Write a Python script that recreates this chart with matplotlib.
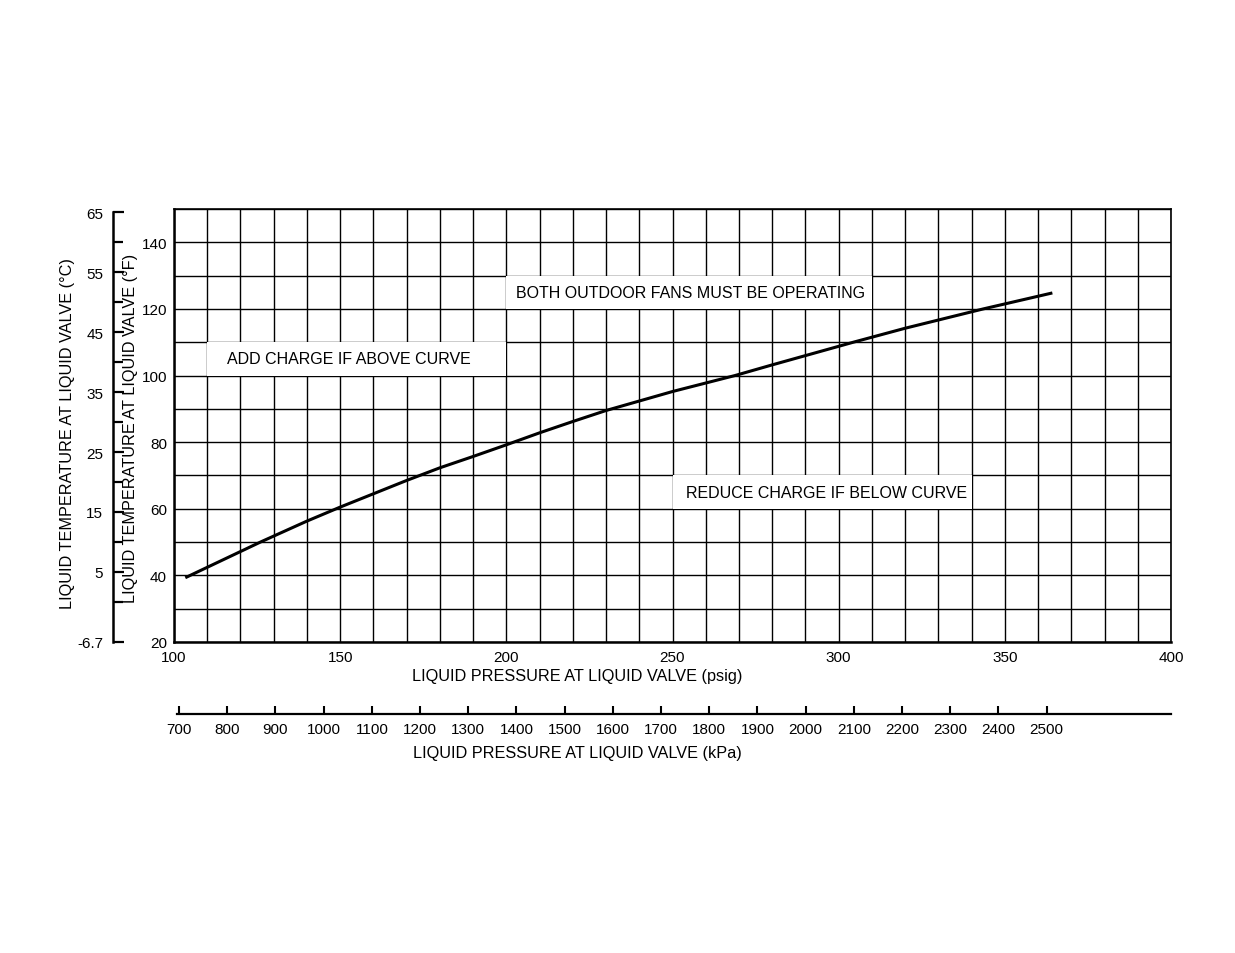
import matplotlib
matplotlib.use("Agg")
import matplotlib.pyplot as plt
from matplotlib.patches import Rectangle

plt.rcParams['font.family'] = ['Liberation Sans', 'DejaVu Sans']

# ---- data ----
pressure_psig = [103.4, 126, 140, 150, 160, 170, 180, 190, 200, 210,
                 220, 230, 250, 268.8, 280, 304.4, 320, 343.5, 364.3]
temp_F = [39.3, 50.0, 56.3, 60.5, 64.5, 68.5, 72.3, 75.7, 79.2, 82.8,
          86.2, 89.5, 95.2, 100.0, 103.2, 110.0, 114.2, 120.0, 124.8]

psig_ticks = [100, 150, 200, 250, 300, 350, 400]
F_ticks = [20, 40, 60, 80, 100, 120, 140]
C_ticks = [-6.7, 5, 15, 25, 35, 45, 55, 65]
C_minor = [0, 10, 20, 30, 40, 50, 60]
kPa_ticks = [700, 800, 900, 1000, 1100, 1200, 1300, 1400, 1500, 1600, 1700,
             1800, 1900, 2000, 2100, 2200, 2300, 2400, 2500]

notes = ["ADD CHARGE IF ABOVE CURVE",
         "BOTH OUTDOOR FANS MUST BE OPERATING",
         "REDUCE CHARGE IF BELOW CURVE"]
note_boxes = [(110, 100, 90, 10), (200, 120, 110, 10), (250, 60, 90, 10)]
note_text_x = [115.9, 202.9, 254.1]

PSI_TO_KPA = 6.895

W, H = 1235, 954
fig = plt.figure(figsize=(W / 100, H / 100), dpi=100)
fig.patch.set_facecolor('white')

L, R, T, B = 174, 1171, 210, 643
ax = fig.add_axes([L / W, 1 - B / H, (R - L) / W, (B - T) / H])
ax.set_xlim(100, 400)
ax.set_ylim(20, 150)
ax.set_xticks(psig_ticks)
ax.set_xticks(range(100, 401, 10), minor=True)
ax.set_yticks(F_ticks)
ax.set_yticks(range(20, 151, 10), minor=True)
ax.grid(which='both', color='black', linewidth=1.0)
ax.set_axisbelow(True)
ax.tick_params(which='both', length=0)
ax.tick_params(axis='x', pad=6, labelsize=11)
ax.tick_params(axis='y', pad=5, labelsize=11)
for s in ax.spines.values():
    s.set_linewidth(1.2)
    s.set_color('black')
ax.spines['left'].set_linewidth(1.8)
ax.spines['bottom'].set_linewidth(1.8)

ax.plot(pressure_psig, temp_F, color='black', linewidth=2.2, zorder=5,
        solid_capstyle='butt', solid_joinstyle='round')

for (x0, y0, w, h), txt, tx in zip(note_boxes, notes, note_text_x):
    ax.add_patch(Rectangle((x0, y0), w, h, facecolor='white', edgecolor='none',
                           zorder=3))
    ax.text(tx, y0 + h / 2, txt, ha='left', va='center', fontsize=11.5,
            zorder=4)

# Celsius axis
axc = ax.twinx()
axc.set_ylim((20 - 32) / 1.8, (150 - 32) / 1.8)
axc.yaxis.set_ticks_position('left')
axc.yaxis.set_label_position('left')
for k in ('right', 'top', 'bottom'):
    axc.spines[k].set_visible(False)
axc.spines['left'].set_position(('outward', 44))
axc.spines['left'].set_bounds(-6.7, 65)
axc.spines['left'].set_linewidth(1.8)
axc.set_yticks(C_ticks)
axc.set_yticklabels([str(c) for c in C_ticks])
axc.set_yticks(C_minor, minor=True)
axc.tick_params(which='major', direction='in', length=8, width=1.6, pad=7,
                labelsize=11)
axc.tick_params(which='minor', direction='in', length=7, width=1.6)

# kPa axis
KY = 715
axk = fig.add_axes([L / W, 1 - KY / H, (R - L) / W, 0.0001])
axk.set_xlim(100 * PSI_TO_KPA, 400 * PSI_TO_KPA)
axk.set_ylim(0, 1)
axk.patch.set_visible(False)
for k in ('left', 'right', 'top'):
    axk.spines[k].set_visible(False)
axk.spines['bottom'].set_bounds(696, 400 * PSI_TO_KPA)
axk.spines['bottom'].set_linewidth(1.6)
axk.set_yticks([])
axk.set_xticks(kPa_ticks)
axk.set_xticklabels([str(k) for k in kPa_ticks])
axk.tick_params(axis='x', direction='in', length=6, width=1.5, pad=6,
                labelsize=11)

# axis titles
fig.text(577 / W, 1 - 677 / H, "LIQUID PRESSURE AT LIQUID VALVE (psig)",
         ha='center', va='center', fontsize=11.7)
fig.text(577 / W, 1 - 754 / H, "LIQUID PRESSURE AT LIQUID VALVE (kPa)",
         ha='center', va='center', fontsize=11.7)
fig.text(68 / W, 1 - 434 / H, "LIQUID TEMPERATURE AT LIQUID VALVE (°C)",
         ha='center', va='center', rotation=90, fontsize=11.7)
fig.text(131 / W, 1 - 428 / H, "LIQUID TEMPERATURE AT LIQUID VALVE (°F)",
         ha='center', va='center', rotation=90, fontsize=11.7)

fig.savefig('out.png', dpi=100, facecolor='white')
